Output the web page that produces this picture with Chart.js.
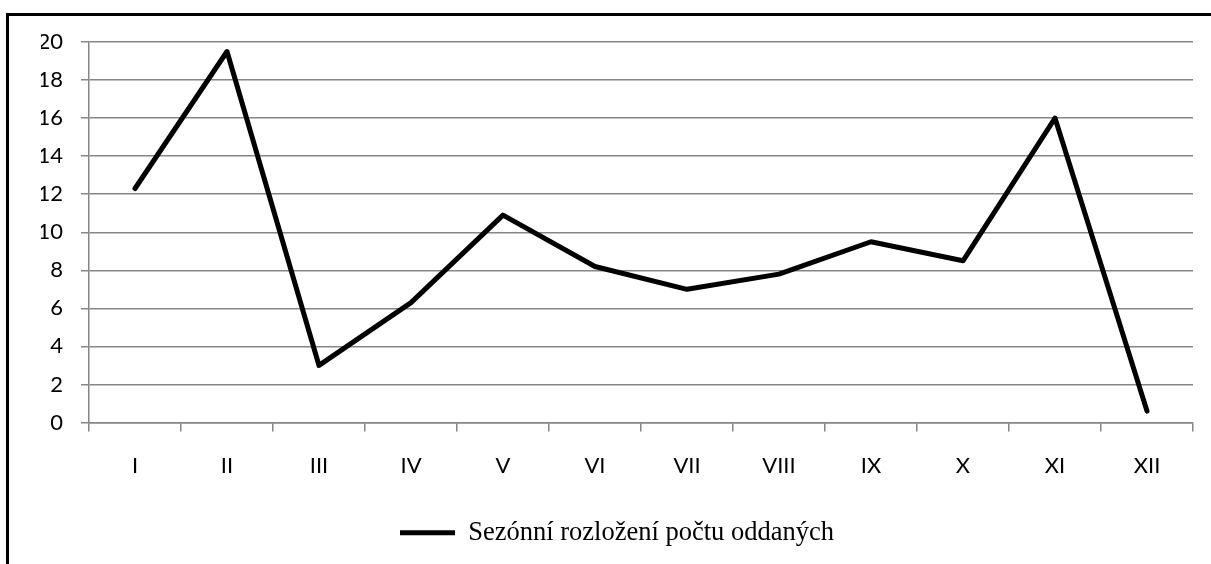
<!DOCTYPE html>
<html lang="cs">
<head>
  <meta charset="UTF-8">
  <title>Sezónní rozložení počtu oddaných</title>
  <script src="https://cdn.jsdelivr.net/npm/chart.js"></script>
  <style>
    html, body { margin: 0; padding: 0; background: #fff; }
    #wrap { width: 1211px; height: 564px; position: relative; }
  </style>
</head>
<body>
  <div id="wrap"><canvas id="seasonChart"></canvas></div>

  <script>
    const months = ['I', 'II', 'III', 'IV', 'V', 'VI', 'VII', 'VIII', 'IX', 'X', 'XI', 'XII'];
    const weddings = [12.3, 19.5, 3.0, 6.3, 10.9, 8.2, 7.0, 7.8, 9.5, 8.5, 16.0, 0.6];
    const seriesLabel = 'Sezónní rozložení počtu oddaných';

    const gridGrey = '#868686';

    // black frame around the whole chart (right and bottom edges fall outside)
    const framePlugin = {
      id: 'frame',
      beforeDraw(chart) {
        const c = chart.ctx;
        c.save();
        c.fillStyle = '#fff';
        c.fillRect(0, 0, chart.width, chart.height);
        c.strokeStyle = '#000';
        c.lineWidth = 3;
        c.strokeRect(7.5, 14.5, 1300, 700);
        c.restore();
      }
    };

    var ctx = document.getElementById('seasonChart').getContext('2d');
    var seasonChart = new Chart(ctx, {
      type: 'line',
      data: {
        labels: months,
        datasets: [{
          label: seriesLabel,
          data: weddings,
          borderColor: '#000',
          backgroundColor: '#000',
          borderWidth: 5,
          borderJoinStyle: 'round',
          borderCapStyle: 'round',
          pointRadius: 0,
          tension: 0
        }]
      },
      options: {
        responsive: true,
        maintainAspectRatio: false,
        animation: false,
        layout: { padding: { left: 41, right: 18, top: 42, bottom: 8 } },
        scales: {
          x: {
            offset: true,
            afterFit: function (scale) { scale.height = 91; },
            grid: {
              offset: true,
              drawOnChartArea: false,
              color: gridGrey,
              tickLength: 9,
              lineWidth: 1.5
            },
            border: { color: gridGrey, width: 1.5 },
            ticks: {
              color: '#000',
              padding: 21,
              font: { family: 'Lato', size: 22 }
            }
          },
          y: {
            min: 0,
            max: 20,
            afterFit: function (scale) { scale.width = 48; },
            grid: {
              color: gridGrey,
              tickLength: 8,
              lineWidth: 1.5
            },
            border: { color: gridGrey, width: 1.5 },
            ticks: {
              stepSize: 2,
              color: '#000',
              padding: 18,
              font: { family: 'Lato', size: 22 }
            }
          }
        },
        plugins: {
          legend: {
            display: true,
            position: 'bottom',
            labels: {
              color: '#000',
              boxWidth: 55,
              boxHeight: 5,
              padding: 6,
              font: { family: 'Liberation Serif', size: 26.5 },
              generateLabels: function (chart) {
                return [{
                  text: seriesLabel,
                  fillStyle: '#000',
                  strokeStyle: '#000',
                  lineWidth: 0,
                  datasetIndex: 0
                }];
              }
            }
          },
          tooltip: { enabled: false }
        }
      },
      plugins: [framePlugin]
    });
  </script>
</body>
</html>
